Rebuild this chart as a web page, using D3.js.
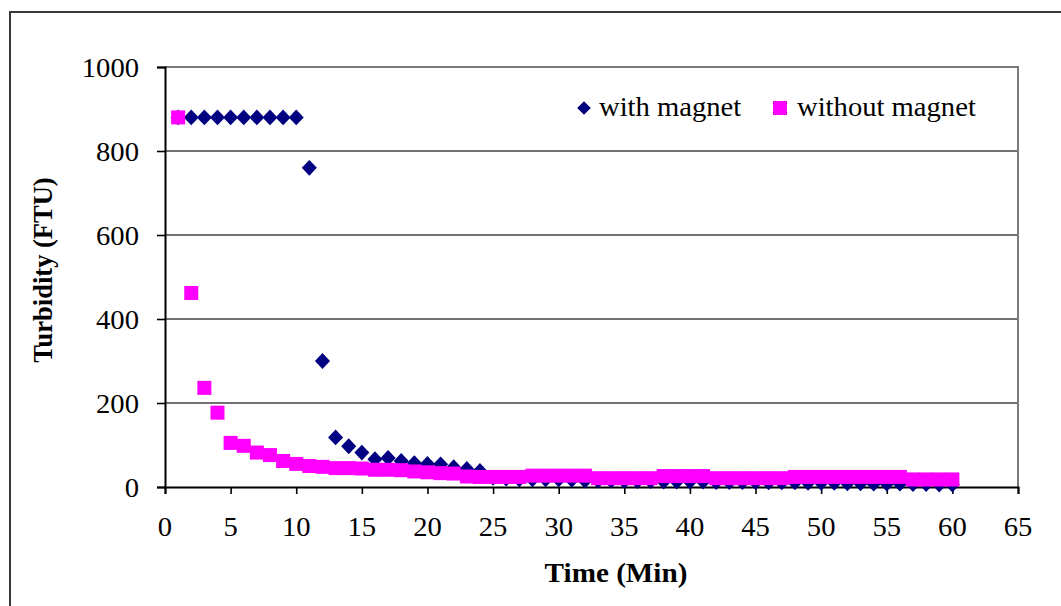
<!DOCTYPE html>
<html>
<head>
<meta charset="utf-8">
<script src="https://cdn.jsdelivr.net/npm/d3@7"></script>
<style>
  html, body { margin: 0; padding: 0; background: #fff; }
  svg { display: block; }
  text { font-family: "Liberation Serif", "Times New Roman", serif; fill: #000; }
</style>
</head>
<body>
<svg id="chart" width="1061" height="606"></svg>
<script>
// ---- data ----
const time = d3.range(1, 61);
const withMagnet = [
  880, 880, 880, 880, 880, 880, 880, 880, 880, 880,
  760, 300, 118, 97, 82, 66, 69, 62, 57, 55,
  54, 47, 43, 38, 22, 20, 18, 18, 18, 18,
  17, 15, 15, 15, 14, 14, 14, 13, 13, 13,
  13, 12, 12, 12, 12, 11, 11, 11, 10, 10,
  10, 9, 9, 8, 8, 8, 7, 7, 6, 6
];
const withoutMagnet = [
  880, 462, 236, 177, 105, 98, 82, 76, 62, 55,
  50, 48, 45, 45, 44, 41, 41, 40, 37, 35,
  33, 32, 25, 24, 24, 24, 24, 27, 27, 27,
  27, 27, 21, 21, 21, 21, 21, 26, 26, 26,
  26, 21, 21, 21, 21, 21, 21, 24, 24, 24,
  24, 24, 24, 24, 24, 24, 18, 18, 18, 18
];
const xTicks = d3.range(0, 66, 5);
const yTicks = [0, 200, 400, 600, 800, 1000];
const seriesNames = ["with magnet", "without magnet"];
const xTitle = "Time (Min)";
const yTitle = "Turbidity (FTU)";

// ---- layout ----
const svg = d3.select("#chart");
const plot = { left: 165, right: 1018, top: 67, bottom: 487 };
const x = d3.scaleLinear().domain([0, 65]).range([plot.left, plot.right]);
const y = d3.scaleLinear().domain([0, 1000]).range([plot.bottom, plot.top]);
const FS = 26.5, SX = 1.08;
const NAVY = "#000080", MAG = "#ff00ff";

// outer border
svg.append("path")
  .attr("d", "M10,606 V12 H1061")
  .attr("fill", "none").attr("stroke", "#3a3a3a").attr("stroke-width", 2);

// gridlines
svg.append("g").selectAll("line")
  .data(yTicks.filter(v => v > 0 && v < 1000))
  .join("line")
  .attr("x1", plot.left).attr("x2", plot.right)
  .attr("y1", d => y(d)).attr("y2", d => y(d))
  .attr("stroke", "#404040").attr("stroke-width", 1.4);

// plot frame top / right
svg.append("path")
  .attr("d", `M${plot.left},${y(1000)} H${x(65)} V${y(0)}`)
  .attr("fill", "none").attr("stroke", "#7a7a7a").attr("stroke-width", 2);

// axes
const xAxis = d3.axisBottom(x).tickValues(xTicks).tickSize(7).tickFormat("");
const yAxis = d3.axisLeft(y).tickValues(yTicks).tickSize(8).tickFormat("");
const gx = svg.append("g").attr("transform", `translate(0,${plot.bottom})`).call(xAxis);
const gy = svg.append("g").attr("transform", `translate(${plot.left},0)`).call(yAxis);
[gx, gy].forEach(g => {
  g.select(".domain").attr("stroke", "#000").attr("stroke-width", 2);
  g.selectAll(".tick line").attr("stroke", "#000").attr("stroke-width", 1.6);
});

// tick labels
svg.append("g").selectAll("text").data(xTicks).join("text")
  .attr("transform", d => `translate(${x(d)},${plot.bottom + 48.5}) scale(${SX},1)`)
  .attr("text-anchor", "middle").attr("font-size", FS)
  .text(d => d);
svg.append("g").selectAll("text").data(yTicks).join("text")
  .attr("transform", d => `translate(139,${y(d) + 9.5}) scale(${SX},1)`)
  .attr("text-anchor", "end").attr("font-size", FS)
  .text(d => d);

// axis titles
svg.append("text")
  .attr("transform", `translate(616,582) scale(${SX},1)`)
  .attr("text-anchor", "middle").attr("font-size", FS + 0.5).attr("font-weight", "bold")
  .text(xTitle);
svg.append("text")
  .attr("transform", `translate(52,270) rotate(-90)`)
  .attr("text-anchor", "middle").attr("font-size", FS).attr("font-weight", "bold")
  .text(yTitle);

// markers
const diamond = d3.symbol().type(d3.symbolDiamond2).size(160);
const MS = 14;

svg.append("g").selectAll("path")
  .data(time.map((t, i) => [t, withMagnet[i]]))
  .join("path")
  .attr("d", diamond)
  .attr("transform", d => `translate(${x(d[0])},${y(d[1])}) scale(0.95,1)`)
  .attr("fill", NAVY);

svg.append("g").selectAll("rect")
  .data(time.map((t, i) => [t, withoutMagnet[i]]))
  .join("rect")
  .attr("x", d => x(d[0]) - MS / 2)
  .attr("y", d => y(d[1]) - MS / 2)
  .attr("width", MS).attr("height", MS)
  .attr("fill", MAG);

// legend
const lg = svg.append("g");
lg.append("path").attr("d", d3.symbol().type(d3.symbolDiamond2).size(120))
  .attr("transform", "translate(584,108)").attr("fill", NAVY);
lg.append("text").attr("transform", `translate(599,116) scale(${SX},1)`)
  .attr("font-size", FS).text(seriesNames[0]);
lg.append("rect").attr("x", 773).attr("y", 101).attr("width", 14).attr("height", 14)
  .attr("fill", MAG);
lg.append("text").attr("transform", `translate(797,116) scale(${SX},1)`)
  .attr("font-size", FS).text(seriesNames[1]);
</script>
</body>
</html>
